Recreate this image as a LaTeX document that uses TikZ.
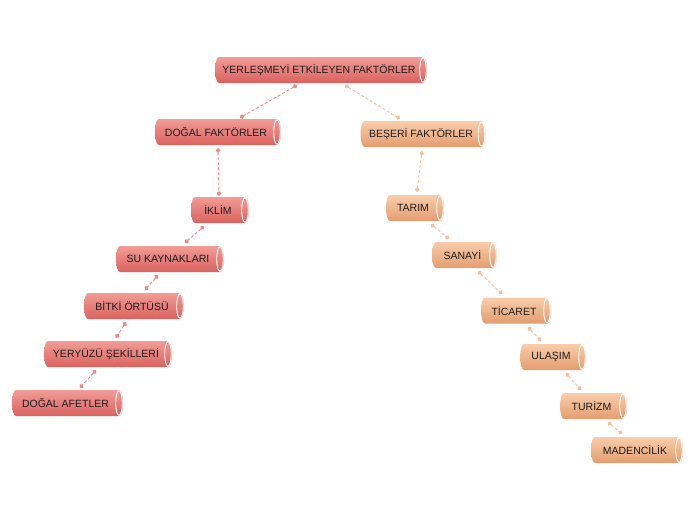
\documentclass[tikz,border=0pt]{standalone}
\usepackage{fontspec}
\setmainfont{Liberation Sans}
\usetikzlibrary{calc,arrows.meta}
\definecolor{rtop}{HTML}{F29C97}
\definecolor{rmid}{HTML}{E8746F}
\definecolor{rbot}{HTML}{D9625E}
\definecolor{otop}{HTML}{F9CDAB}
\definecolor{omid}{HTML}{F0B185}
\definecolor{obot}{HTML}{E39D6F}
\definecolor{rline}{HTML}{F08783}
\definecolor{oline}{HTML}{F6C09B}
\definecolor{txtc}{HTML}{1C1C1C}
\tikzset{
  lbl/.style={font=\fontsize{10.5}{12}\selectfont, text=txtc, inner sep=0pt, minimum height=26pt},
  con/.style={dash pattern=on 3pt off 2pt, line width=0.9pt, {Circle[length=4.5pt,width=4.5pt]}-{Circle[length=4.5pt,width=4.5pt]}},
  rcon/.style={con, draw=rline},
  ocon/.style={con, draw=oline}
}
\newcommand\cylbox[6]{%
  \shade[top color=#5top, middle color=#5mid, bottom color=#5bot]
    ({#2-#4/2+4},{#3-13}) -- ({#2+#4/2-4},{#3-13})
    arc[start angle=-90,end angle=90,x radius=4,y radius=13]
    -- ({#2-#4/2+4},{#3+13})
    arc[start angle=90,end angle=270,x radius=4,y radius=13] -- cycle;
  \draw[white, line width=0.9pt] ({#2+#4/2-4},#3) ellipse [x radius=3.3,y radius=12.3];
  \node[lbl, minimum width=#4] (#1) at ({#2-2},#3) {#6};
}
\begin{document}
\begin{tikzpicture}[x=1pt,y=-1pt]
\useasboundingbox (0,0) rectangle (696,520);
\cylbox{Y}{321}{70}{212}{r}{YERLEŞMEYİ ETKİLEYEN FAKTÖRLER}
\cylbox{DF}{218}{132}{126}{r}{DOĞAL FAKTÖRLER}
\cylbox{BF}{423}{134}{125}{o}{BEŞERİ FAKTÖRLER}
\cylbox{IK}{220}{210}{58}{r}{İKLİM}
\cylbox{SU}{170}{259}{108}{r}{SU KAYNAKLARI}
\cylbox{BI}{134}{306}{100}{r}{BİTKİ ÖRTÜSÜ}
\cylbox{YE}{108}{354}{128}{r}{YERYÜZÜ ŞEKİLLERİ}
\cylbox{DA}{67.5}{403}{111}{r}{DOĞAL AFETLER}
\cylbox{TA}{415}{208}{58}{o}{TARIM}
\cylbox{SA}{464.5}{255}{65}{o}{SANAYİ}
\cylbox{TI}{516}{310.5}{70}{o}{TİCARET}
\cylbox{UL}{553}{357}{66}{o}{ULAŞIM}
\cylbox{TU}{593.5}{406}{67}{o}{TURİZM}
\cylbox{MA}{637}{450}{92}{o}{MADENCİLİK}

\draw[rcon] ($(Y.south)+(-22,2)$) -- ($(DF.north)+(24,-1)$);
\draw[ocon] ($(Y.south)+(26,2)$) -- ($(BF.north)+(-21,-2)$);
\draw[rcon] ($(DF.south)+(2,3)$) -- ($(IK.north)+(1,-1)$);
\draw[rcon] ($(IK.south)+(-14,3)$) -- ($(SU.north)+(17,-3)$);
\draw[rcon] ($(SU.south)+(-10,3)$) -- ($(BI.north)+(13,-3)$);
\draw[rcon] ($(BI.south)+(-6,3)$) -- ($(YE.north)+(10,-3)$);
\draw[rcon] ($(YE.south)+(-10,3)$) -- ($(DA.north)+(14.5,-2)$);
\draw[ocon] ($(BF.south)+(1,4)$) -- ($(TA.north)+(4,-3)$);
\draw[ocon] ($(TA.south)+(18,3)$) -- ($(SA.north)+(-13.5,-3)$);
\draw[ocon] ($(SA.south)+(15.5,3)$) -- ($(TI.north)+(-12,-3.5)$);
\draw[ocon] ($(TI.south)+(14,3.5)$) -- ($(UL.north)+(-10,-3)$);
\draw[ocon] ($(UL.south)+(15,3)$) -- ($(TU.north)+(-10.5,-3)$);
\draw[ocon] ($(TU.south)+(16.5,3)$) -- ($(MA.north)+(-13,-3)$);
\end{tikzpicture}
\end{document}
